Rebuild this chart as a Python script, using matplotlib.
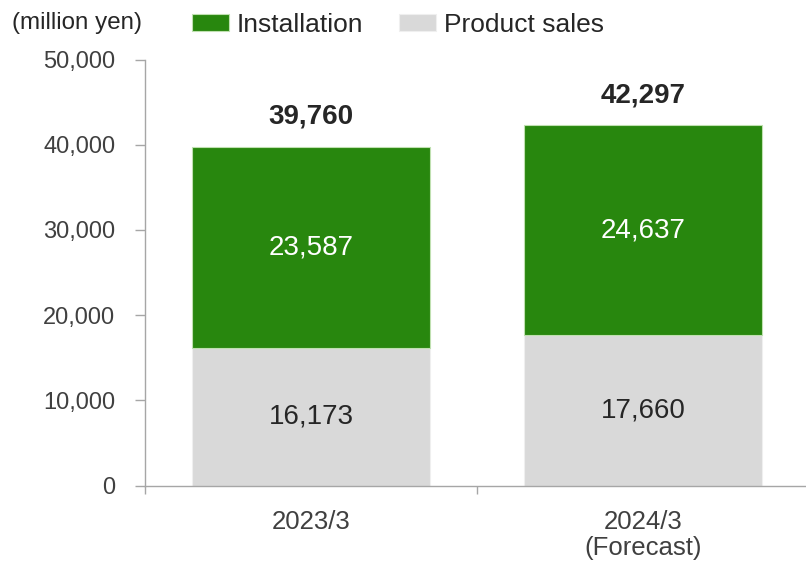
import matplotlib
matplotlib.use("Agg")
import matplotlib.pyplot as plt
import numpy as np

categories = ["2023/3", "2024/3\n(Forecast)"]
product_sales = [16173, 17660]
installation = [23587, 24637]
totals = [39760, 42297]
yticks = [0, 10000, 20000, 30000, 40000, 50000]

plt.rcParams['font.family'] = ['Liberation Sans', 'DejaVu Sans']

GREEN = '#28870E'
GREY = '#D9D9D9'
TXT = '#404040'
AXC = '#A6A6A6'

fig = plt.figure(figsize=(8.06, 5.63), dpi=100)
ax = fig.add_axes([145/806, 1-485.7/563, (809-145)/806, (485.7-59.5)/563])

x = np.arange(len(categories))
w = 0.715
b1 = ax.bar(x, product_sales, w, color=GREY, edgecolor='#EFEFEF', linewidth=0.8, label='Product sales', zorder=2)
b2 = ax.bar(x, installation, w, bottom=product_sales, color=GREEN, edgecolor='#BFE0B0', linewidth=0.8, label='Installation', zorder=2)

for i in range(len(categories)):
    ax.text(x[i], product_sales[i]/2, f"{product_sales[i]:,}", ha='center', va='center',
            fontsize=20, color='#262626')
    ax.text(x[i], product_sales[i] + installation[i]/2, f"{installation[i]:,}", ha='center', va='center',
            fontsize=20, color='white')
    ax.annotate(f"{totals[i]:,}", (x[i], totals[i]), xytext=(0, 21.5), textcoords='offset points',
                ha='center', va='center', fontsize=20, fontweight='bold', color='#262626')

ax.set_xlim(-0.5, 1.5)
ax.set_ylim(0, 50000)
ax.set_yticks(yticks)
ax.set_yticklabels([f"{v:,}" for v in yticks], fontsize=17, color=TXT)
ax.set_xticks(x)
ax.set_xticklabels(categories, fontsize=18.5, color=TXT, linespacing=1.1)
ax.set_xticks([-0.5, 0.5, 1.5], minor=True)
ax.tick_params(axis='x', which='major', length=0, pad=17.5)
ax.tick_params(axis='x', which='minor', length=6, color=AXC, width=1)
ax.tick_params(axis='y', length=7, color=AXC, width=1, pad=14.5)

for s in ['top', 'right']:
    ax.spines[s].set_visible(False)
for s in ['left', 'bottom']:
    ax.spines[s].set_color(AXC)
    ax.spines[s].set_linewidth(1)

fig.text(12/806, 1-23/563, "(million yen)", fontsize=17.4, color='#262626', ha='left', va='center')

leg = fig.legend(handles=[b2, b1], labels=['Installation', 'Product sales'], loc='upper left',
                 bbox_to_anchor=(192/806, 1-13/563), ncol=2, frameon=False, fontsize=19,
                 handlelength=1.4, handleheight=0.62, handletextpad=0.3, columnspacing=1.36,
                 borderpad=0, borderaxespad=0, labelcolor='#262626')

fig.savefig("out.png", dpi=100)
